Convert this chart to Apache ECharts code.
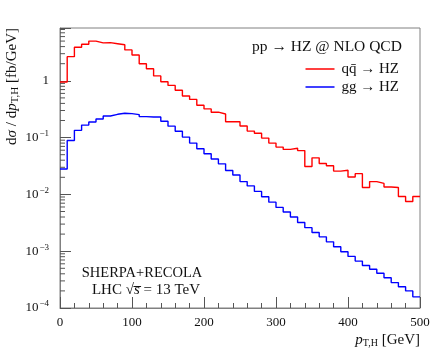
<!DOCTYPE html>
<html>
<head>
<meta charset="utf-8">
<script src="https://cdn.jsdelivr.net/npm/echarts@6/dist/echarts.min.js"></script>
<style>
  html, body { margin: 0; padding: 0; background: #fff; }
  #chart { width: 435px; height: 349px; }
</style>
</head>
<body>
<div id="chart"></div>
<script>
// bin lower edges, 10 GeV bins
const binLow = [0, 10, 20, 30, 40, 50, 60, 70, 80, 90,
  100, 110, 120, 130, 140, 150, 160, 170, 180, 190,
  200, 210, 220, 230, 240, 250, 260, 270, 280, 290,
  300, 310, 320, 330, 340, 350, 360, 370, 380, 390,
  400, 410, 420, 430, 440, 450, 460, 470, 480, 490];
const binEnd = 500;

// q qbar -> HZ
const qqValues = [0.95, 2.66, 3.9, 4.4, 5.0, 4.65, 4.7, 4.5, 4.3, 3.5,
  2.85, 2.0, 1.63, 1.22, 0.96, 0.83, 0.68, 0.54, 0.47, 0.37,
  0.32, 0.28, 0.26, 0.19, 0.19, 0.16, 0.13, 0.119, 0.098, 0.08,
  0.068, 0.062, 0.065, 0.059, 0.031, 0.044, 0.035, 0.032, 0.0257, 0.0266,
  0.0203, 0.0232, 0.0132, 0.0168, 0.0156, 0.0135, 0.0132, 0.0092, 0.0075, 0.0092];

// g g -> HZ
const ggValues = [0.028, 0.089, 0.134, 0.166, 0.188, 0.213, 0.24, 0.257, 0.268, 0.264,
  0.254, 0.234, 0.23, 0.23, 0.194, 0.159, 0.129, 0.102, 0.080, 0.0636,
  0.052, 0.042, 0.0345, 0.0263, 0.022, 0.0168, 0.0141, 0.0113, 0.0091, 0.0073,
  0.0059, 0.0049, 0.0040, 0.0032, 0.0026, 0.00213, 0.00179, 0.00146, 0.0012, 0.00098,
  0.00081, 0.00067, 0.00056, 0.00048, 0.00041, 0.00034, 0.00028, 0.000236, 0.0002, 0.000157];

const xTicks = [0, 100, 200, 300, 400, 500];
const yDecades = [-4, -3, -2, -1, 0];
const seriesNames = ['qq\u0304 \u2192 HZ', 'gg \u2192 HZ'];

const FONT = 'Liberation Serif';
const yMin = 1e-4, yMax = 8.5;

function steps(values) {
  const pts = binLow.map((x, i) => [x, values[i]]);
  pts.push([binEnd, values[values.length - 1]]);
  return pts;
}

// minor ticks of the log axis: 2..9 x 10^k
const minorY = [];
yDecades.forEach(k => {
  for (let m = 2; m <= 9; m++) {
    const v = m * Math.pow(10, k);
    if (v < yMax) minorY.push(v);
  }
});

const chart = echarts.init(document.getElementById('chart'));
chart.setOption({
  animation: false,
  textStyle: { fontFamily: FONT },
  grid: { left: 60, right: 15, top: 28, bottom: 41, show: true, borderColor: '#808080', borderWidth: 1 },
  legend: {
    data: [
      { name: seriesNames[0] },
      { name: seriesNames[1] }
    ],
    orient: 'vertical',
    right: 31,
    top: 56,
    icon: 'rect',
    itemWidth: 29,
    itemHeight: 1.5,
    itemGap: 2,
    textStyle: { fontFamily: FONT, fontSize: 15, lineHeight: 16, color: '#111', padding: [0, 0, 0, 2] }
  },
  xAxis: {
    type: 'value',
    min: 0,
    max: 500,
    interval: 100,
    axisLine: { lineStyle: { color: '#808080' } },
    axisTick: { inside: true, length: 11, lineStyle: { color: '#555' } },
    minorTick: { show: true, splitNumber: 5, length: 5, lineStyle: { color: '#555' } },
    splitLine: { show: false },
    axisLabel: { margin: 8, fontSize: 13, color: '#111', fontFamily: FONT,
      formatter: v => xTicks.includes(v) ? String(v) : '' }
  },
  yAxis: {
    type: 'log',
    logBase: 10,
    min: yMin,
    max: yMax,
    axisLine: { show: true, lineStyle: { color: '#808080' } },
    axisTick: { inside: true, length: 11, lineStyle: { color: '#555' } },
    splitLine: { show: false },
    axisLabel: {
      margin: 11,
      fontSize: 13,
      color: '#111',
      formatter: function (v) {
        const e = Math.log10(v);
        const k = Math.round(e);
        if (Math.abs(e - k) > 1e-6 || !yDecades.includes(k)) return '';
        if (k === 0) return '{b|1}';
        return '{b|10}{s|\u2212' + (-k) + '}';
      },
      rich: {
        b: { fontSize: 13, fontFamily: FONT, color: '#111' },
        s: { fontSize: 9, fontFamily: FONT, color: '#111', padding: [0, 0, 8, 1] }
      }
    }
  },
  graphic: [
    {
      type: 'text', left: 252, top: 39,
      style: { text: 'pp \u2192 HZ @ NLO QCD', font: '15.5px "' + FONT + '"', fill: '#111' }
    },
    {
      type: 'text', x: 142, y: 273,
      style: { text: 'SHERPA+RECOLA', font: '14.5px "' + FONT + '"', fill: '#111', align: 'center', verticalAlign: 'middle' }
    },
    {
      type: 'text', x: 146, y: 290,
      style: {
        text: '{n|LHC \u221A}{i|s\u0305}{n| = 13 TeV}',
        align: 'center', verticalAlign: 'middle',
        rich: {
          n: { fontSize: 15, fontFamily: FONT, fill: '#111' },
          i: { fontSize: 15, fontFamily: FONT, fontStyle: 'italic', fill: '#111' }
        }
      }
    },
    {
      type: 'text', x: 420, y: 340,
      style: {
        text: '{i|p}{sub|T,H}{n| [GeV]}',
        align: 'right', verticalAlign: 'middle',
        rich: {
          i: { fontSize: 15, fontFamily: FONT, fontStyle: 'italic', fill: '#111' },
          sub: { fontSize: 10, fontFamily: FONT, fill: '#111', padding: [6, 0, 0, 0] },
          n: { fontSize: 15, fontFamily: FONT, fill: '#111' }
        }
      }
    },
    {
      type: 'text', x: 12, y: 28, rotation: Math.PI / 2,
      style: {
        text: '{n|d}{i|\u03C3}{n| / d}{i|p}{sub|T,H}{n| [fb/GeV]}',
        align: 'right', verticalAlign: 'middle',
        rich: {
          n: { fontSize: 15, fontFamily: FONT, fill: '#111' },
          i: { fontSize: 15, fontFamily: FONT, fontStyle: 'italic', fill: '#111' },
          sub: { fontSize: 11, fontFamily: FONT, fill: '#111', padding: [6, 0, 0, 0] }
        }
      }
    }
  ],
  series: [
    {
      name: seriesNames[0],
      type: 'line',
      step: 'end',
      data: steps(qqValues),
      showSymbol: false,
      symbol: 'none',
      lineStyle: { color: '#ff0000', width: 1.4 },
      itemStyle: { color: '#ff0000' },
      z: 3
    },
    {
      name: seriesNames[1],
      type: 'line',
      step: 'end',
      data: steps(ggValues),
      showSymbol: false,
      symbol: 'none',
      lineStyle: { color: '#0000ff', width: 1.4 },
      itemStyle: { color: '#0000ff' },
      z: 3
    },
    {
      type: 'custom',
      data: minorY.map(v => [0, v]),
      silent: true,
      clip: false,
      z: 1,
      renderItem: function (params, api) {
        const p = api.coord([api.value(0), api.value(1)]);
        return {
          type: 'line',
          shape: { x1: p[0], y1: p[1], x2: p[0] + 5, y2: p[1] },
          style: { stroke: '#555', lineWidth: 1 }
        };
      }
    }
  ]
});
</script>
</body>
</html>
